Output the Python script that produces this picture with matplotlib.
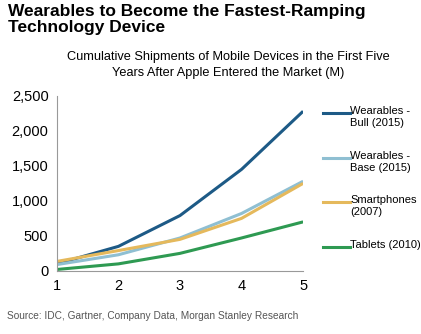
import matplotlib.pyplot as plt

plt.rcParams['font.family'] = ['Liberation Sans', 'DejaVu Sans']

years = [1, 2, 3, 4, 5]
bull = [100, 350, 790, 1450, 2280]
base = [90, 230, 470, 820, 1280]
smartphones = [135, 290, 450, 750, 1250]
tablets = [20, 100, 250, 470, 700]
labels = ['Wearables -\nBull (2015)', 'Wearables -\nBase (2015)', 'Smartphones\n(2007)', 'Tablets (2010)']
colors = ['#1d5a86', '#8fbfd2', '#e5b95c', '#2e9a52']

fig = plt.figure(figsize=(4.21, 3.34), dpi=100)
ax = fig.add_axes([0.135, 0.189, 0.585, 0.524])

series = [bull, base, smartphones, tablets]
for s, c in zip(series, colors):
    ax.plot(years, s, color=c, lw=2.2, solid_capstyle='butt')

ax.set_xlim(1, 5)
ax.set_ylim(0, 2500)
ax.set_xticks(years)
ax.set_yticks(range(0, 2501, 500))
ax.set_yticklabels([f'{v:,}' for v in range(0, 2501, 500)])
ax.tick_params(length=0, labelsize=10.5, pad=6)
for sp in ['top', 'right']:
    ax.spines[sp].set_visible(False)
for sp in ['left', 'bottom']:
    ax.spines[sp].set_color('#999999')

# legend drawn by hand on the right
leg_y = [113, 158, 202, 247]
for lab, c, y in zip(labels, colors, leg_y):
    yf = 1 - y / 334
    fig.add_artist(plt.Line2D([323 / 421, 350 / 421], [yf, yf], color=c, lw=2.2))
    fig.text(350 / 421, yf + 7 / 334, lab, fontsize=8, va='top', linespacing=1.25)

fig.text(8 / 421, 1 - 4 / 334, 'Wearables to Become the Fastest-Ramping\nTechnology Device',
         fontsize=12.5, fontweight='bold', va='top', linespacing=1.1)
fig.text(228 / 421, 1 - 51 / 334, 'Cumulative Shipments of Mobile Devices in the First Five\nYears After Apple Entered the Market (M)',
         fontsize=9.2, ha='center', va='top', linespacing=1.45)
fig.text(7 / 421, 1 - 316 / 334, 'Source: IDC, Gartner, Company Data, Morgan Stanley Research',
         fontsize=7.3, color='#555555', va='center')

fig.savefig('out.png', dpi=100)
